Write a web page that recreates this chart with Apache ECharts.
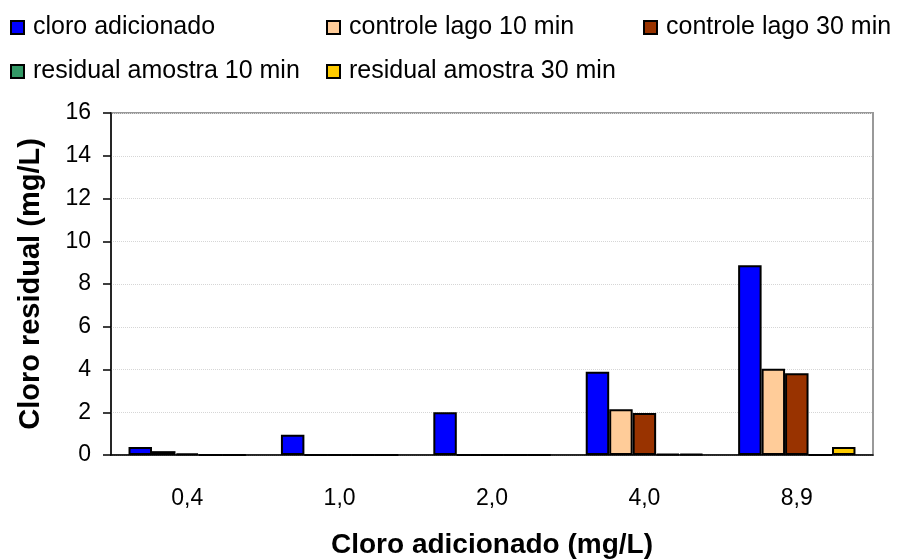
<!DOCTYPE html>
<html>
<head>
<meta charset="utf-8">
<script src="https://cdn.jsdelivr.net/npm/echarts@6/dist/echarts.min.js"></script>
<style>
  html, body { margin: 0; padding: 0; background: #fff; }
  #chart { width: 903px; height: 560px; }
</style>
</head>
<body>
<div id="chart"></div>
<script>
// categorias: cloro adicionado (mg/L)
var categories = ["0,4", "1,0", "2,0", "4,0", "8,9"];

// valores (mg/L)
var cloroAdicionado = [0.38, 0.95, 2.0, 3.9, 8.88];
var controle10 = [0.18, 0, 0, 2.14, 4.03];
var controle30 = [0.08, 0, 0, 1.97, 3.83];
var residual10 = [0, 0, 0, 0.05, 0];
var residual30 = [0, 0, 0, 0.05, 0.38];

var yTicks = [0, 2, 4, 6, 8, 10, 12, 14, 16];

var chart = echarts.init(document.getElementById("chart"));

var font = "Liberation Sans, Arial, sans-serif";

function serie(name, data, color) {
  return {
    name: name,
    type: "bar",
    data: data,
    barCategoryGap: "23%",
    barGap: "0%",
    itemStyle: { color: color, borderColor: "#000", borderWidth: 2 },
    animation: false
  };
}

function legendItem(name, left, top) {
  return {
    data: [name],
    left: left,
    top: top,
    padding: 0,
    itemWidth: 13,
    itemHeight: 13,
    icon: "rect",
    textStyle: { fontFamily: font, fontSize: 25, color: "#000", padding: [0, 0, 0, 4] }
  };
}

chart.setOption({
  animation: false,
  legend: [
    legendItem("cloro adicionado", 10, 15),
    legendItem("controle lago 10 min", 326, 15),
    legendItem("controle lago 30 min", 643, 15),
    legendItem("residual amostra 10 min", 10, 59),
    legendItem("residual amostra 30 min", 326, 59)
  ],
  grid: {
    left: 111,
    right: 30,
    top: 113,
    bottom: 105,
    outerBoundsMode: "none",
    show: true,
    borderColor: "#999",
    borderWidth: 2
  },
  xAxis: {
    type: "category",
    data: categories,
    name: "Cloro adicionado (mg/L)",
    nameLocation: "middle",
    nameGap: 76,
    nameTextStyle: { fontFamily: font, fontSize: 28, fontWeight: "bold", color: "#000" },
    axisLine: { lineStyle: { color: "#000", width: 1.5 } },
    axisTick: { length: 8, lineStyle: { color: "#000", width: 1.5 } },
    axisLabel: { fontFamily: font, fontSize: 23, color: "#000", margin: 32 }
  },
  yAxis: {
    type: "value",
    min: yTicks[0],
    max: yTicks[yTicks.length - 1],
    interval: 2,
    name: "Cloro residual (mg/L)",
    nameLocation: "middle",
    nameGap: 66,
    nameTextStyle: { fontFamily: font, fontSize: 29, fontWeight: "bold", color: "#000" },
    axisLine: { show: true, lineStyle: { color: "#000", width: 1.5 } },
    axisTick: { show: true, length: 8, lineStyle: { color: "#000", width: 1.5 } },
    axisLabel: { fontFamily: font, fontSize: 23, color: "#000", margin: 20 },
    splitLine: { lineStyle: { color: "#d6d6d6", type: "dotted", width: 1 } }
  },
  series: [
    serie("cloro adicionado", cloroAdicionado, "#0000FF"),
    serie("controle lago 10 min", controle10, "#FFCC99"),
    serie("controle lago 30 min", controle30, "#993300"),
    serie("residual amostra 10 min", residual10, "#339966"),
    serie("residual amostra 30 min", residual30, "#FFCC00")
  ]
});
</script>
</body>
</html>
